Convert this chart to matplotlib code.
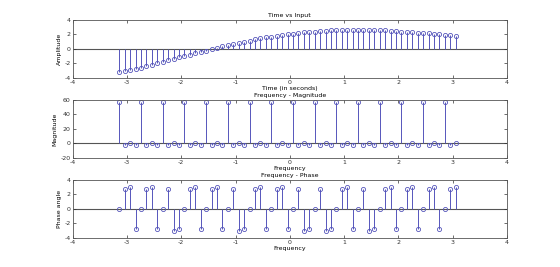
import matplotlib
matplotlib.use('Agg')
import matplotlib.pyplot as plt
import numpy as np

# sample positions (-pi : 0.1 : pi)
t = np.arange(-np.pi, np.pi, 0.1)

amplitude = [-3.27, -3.1, -2.95, -2.8, -2.6, -2.45, -2.2, -2.0, -1.8, -1.55,
             -1.4, -1.15, -1.0, -0.8, -0.6, -0.4, -0.25, -0.05, 0.15, 0.35,
             0.5, 0.7, 0.85, 1.0, 1.15, 1.3, 1.45, 1.6, 1.7, 1.8,
             1.9, 2.0, 2.1, 2.2, 2.3, 2.35, 2.4, 2.45, 2.5, 2.55,
             2.55, 2.6, 2.6, 2.6, 2.6, 2.6, 2.6, 2.6, 2.55, 2.55,
             2.5, 2.45, 2.4, 2.35, 2.3, 2.25, 2.2, 2.15, 2.1, 2.05,
             1.95, 1.9, 1.8]

magnitude = [57, -2, 0, -2] * 15 + [57, -2, 0]

phase = [0, 2.8, 3.1, -2.8, 0, 2.8, 3.1, -2.8, 0, 2.8,
         -3.1, -2.8, 0, 2.8, 3.1, -2.8, 0, 2.8, 3.1, -2.8,
         0, 2.8, -3.1, -2.8, 0, 2.8, 3.1, -2.8, 0, 2.8,
         3.1, -2.8, 0, 2.8, -3.1, -2.8, 0, 2.8, -3.1, -2.8,
         0, 2.8, 3.1, -2.8, 0, 2.8, -3.1, -2.8, 0, 2.8,
         3.1, -2.8, 0, 2.8, 3.1, -2.8, 0, 2.8, 3.1, -2.8,
         0, 2.8, 3.1]

panels = [
    (amplitude, 'Time vs Input', 'Time (in seconds)', 'Amplitude', (-4, 4), [-4, -2, 0, 2, 4]),
    (magnitude, 'Frequency - Magnitude', 'Frequency', 'Magnitude', (-20, 60), [-20, 0, 20, 40, 60]),
    (phase, 'Frequency - Phase', 'Frequency', 'Phase angle', (-4, 4), [-4, -2, 0, 2, 4]),
]

plt.rcParams['font.family'] = 'DejaVu Sans'
plt.rcParams['font.size'] = 4.5
plt.rcParams['axes.unicode_minus'] = False

fig = plt.figure(figsize=(5.6, 2.67), dpi=100)
fig.patch.set_facecolor('white')

bottoms = [0.7093, 0.4096, 0.11]
stem_col = '#5555bb'

for (vals, title, xlab, ylab, ylim, yt), b in zip(panels, bottoms):
    ax = fig.add_axes([0.13, b, 0.775, 0.2157])
    ax.axhline(0, color='#555555', lw=0.8, zorder=1)
    ml, sl, bl = ax.stem(t, vals, basefmt=' ')
    plt.setp(sl, color=stem_col, lw=0.7)
    plt.setp(ml, color=stem_col, markersize=3.0, markerfacecolor='none', mew=0.6)
    ax.set_xlim(-4, 4)
    ax.set_ylim(*ylim)
    ax.set_xticks(range(-4, 5))
    ax.set_yticks(yt)
    ax.tick_params(direction='in', length=2.5, width=0.5, top=True, right=True,
                   labelsize=4.5, pad=1.5, colors='#333333')
    for s in ax.spines.values():
        s.set_color('#555555')
        s.set_linewidth(0.6)
    ax.set_title(title, fontsize=4.5, pad=2)
    ax.set_xlabel(xlab, fontsize=4.5, labelpad=1)
    ax.set_ylabel(ylab, fontsize=4.5, labelpad=2)

fig.savefig('out.png', dpi=100)
